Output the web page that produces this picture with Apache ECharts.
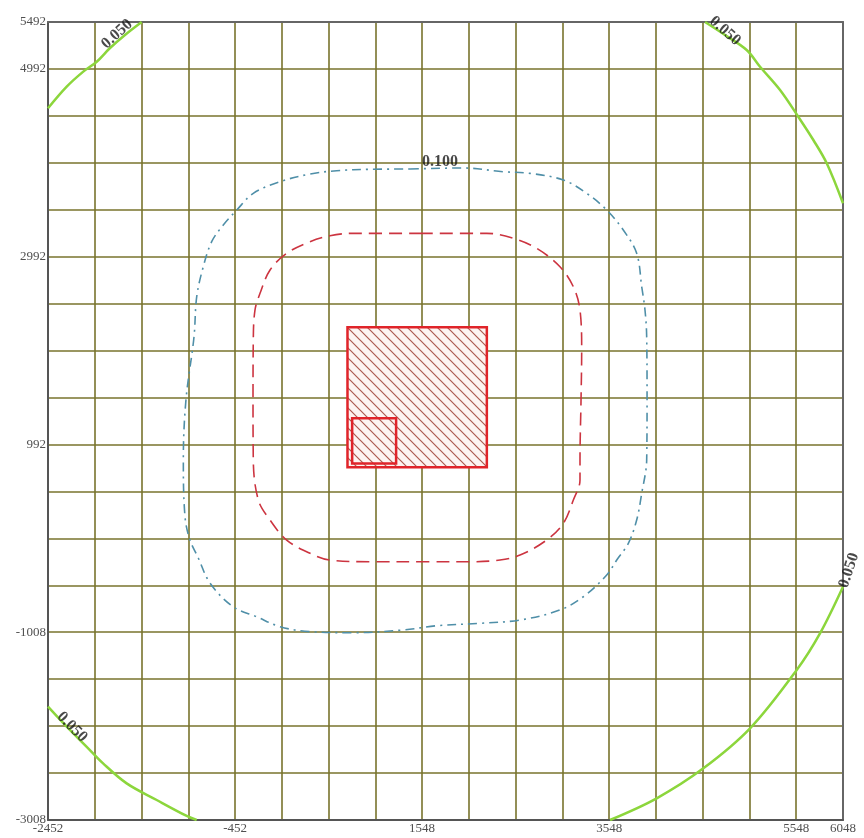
<!DOCTYPE html>
<html>
<head>
<meta charset="utf-8">
<script src="https://cdn.jsdelivr.net/npm/echarts@6/dist/echarts.min.js"></script>
<style>
  html, body { margin: 0; padding: 0; background: #fff; }
  #main { width: 864px; height: 838px; }
</style>
</head>
<body>
<div id="main"></div>
<script>
const xMin = -2452, xMax = 6048
const yMin = -3008, yMax = 5492
const gridStep = 500
const labelStep = 2000

// source area (x0, y0, x1, y1)
const sourceBox = [750, 750, 2240, 2240]
const innerBox = [800, 790, 1270, 1270]

// 0.100 isoline
const line100 = [
  [1419, 3926], [1988, 3937], [2416, 3897], [2702, 3880], [3058, 3809], [3308, 3667],
  [3522, 3489], [3699, 3276], [3842, 3028], [3896, 2672], [3931, 2424], [3949, 2140],
  [3953, 1466], [3949, 826], [3896, 472], [3842, 187], [3753, -61], [3629, -239],
  [3522, -399], [3271, -630], [3022, -771], [2595, -878], [2167, -913], [1704, -939],
  [1344, -984], [809, -1013], [349, -1002], [29, -949], [-221, -843], [-474, -736],
  [-720, -484], [-845, -217], [-934, -26], [-987, 222], [-1005, 826], [-977, 1466],
  [-891, 2137], [-862, 2566], [-792, 2885], [-702, 3152], [-578, 3330], [-434, 3489],
  [-257, 3667], [29, 3791], [349, 3873], [635, 3908], [991, 3923], [1419, 3926]
]

// inner dashed isoline
const lineInner = [
  [1525, 3241], [2239, 3241], [2523, 3188], [2773, 3081], [3022, 2885], [3165, 2672],
  [3236, 2424], [3254, 1998], [3247, 1466], [3236, 826], [3236, 613], [3165, 400],
  [3058, 152], [2880, -26], [2595, -186], [2381, -239], [2060, -257], [1632, -257],
  [991, -257], [563, -239], [349, -167], [100, -26], [-78, 187], [-203, 400],
  [-257, 826], [-260, 1466], [-257, 2105], [-239, 2424], [-185, 2602], [-78, 2850],
  [100, 3028], [349, 3152], [563, 3216], [812, 3241], [1525, 3241]
]

// 0.050 isoline, four corner pieces
const line050TL = [[-2452, 4573], [-2252, 4803], [-2075, 4963], [-1931, 5069], [-1789, 5215], [-1629, 5354], [-1450, 5492]]
const line050TR = [[4573, 5492], [4786, 5354], [5018, 5194], [5161, 5016], [5375, 4768], [5570, 4483], [5731, 4235], [5874, 3987], [6048, 3561]]
const line050BR = [[3557, -3008], [4056, -2777], [4555, -2458], [5054, -2032], [5553, -1410], [5802, -1020], [6048, -523]]
const line050BL = [[-2452, -1801], [-2252, -2014], [-2038, -2228], [-1863, -2405], [-1611, -2618], [-1290, -2795], [-969, -2965], [-862, -3008]]

// isoline labels: x, y, text, rotate
const isoLabels = [
  [1739, 4004, '0.100', 0],
  [-1714, 5364, '0.050', 42],
  [4786, 5396, '0.050', -41],
  [6112, -350, '0.050', 72],
  [-2195, -2018, '0.050', -45]
]

const hatch = document.createElement('canvas')
hatch.width = 10
hatch.height = 10
const hc = hatch.getContext('2d')
hc.fillStyle = '#fdf4f2'
hc.fillRect(0, 0, 10, 10)
hc.strokeStyle = '#ad5a50'
hc.lineWidth = 1.2
hc.beginPath()
hc.moveTo(-1, -1); hc.lineTo(11, 11)
hc.moveTo(-1, 9); hc.lineTo(1, 11)
hc.moveTo(9, -1); hc.lineTo(11, 1)
hc.stroke()

function tickLabel(min, max) {
  return function (v) {
    if (Math.abs(v - max) < 0.5) return String(max)
    const d = Math.round(v - min)
    if (d % labelStep === 0) return String(Math.round(v))
    return ''
  }
}

function boxSeries(box, filled) {
  return {
    type: 'custom',
    renderItem: function (params, api) {
      const p0 = api.coord([api.value(0), api.value(3)])
      const p1 = api.coord([api.value(2), api.value(1)])
      return {
        type: 'rect',
        shape: { x: p0[0], y: p0[1], width: p1[0] - p0[0], height: p1[1] - p0[1] },
        style: {
          fill: filled ? { image: hatch, repeat: 'repeat' } : 'transparent',
          stroke: '#e0242a',
          lineWidth: 2.5
        }
      }
    },
    data: [box],
    z: 5
  }
}

function isoSeries(data, color, width, dash) {
  return {
    type: 'line',
    data: data,
    showSymbol: false,
    smooth: 0.35,
    lineStyle: { color: color, width: width, type: dash },
    z: 4,
    silent: true
  }
}

const axisText = { color: '#505050', fontFamily: 'Liberation Serif', fontSize: 13 }
const splitStyle = { show: true, lineStyle: { color: '#78732c', width: 1.6 } }
const edgeAxis = {
  type: 'value',
  axisLine: { show: true, onZero: false, lineStyle: { color: '#666', width: 2 } },
  axisTick: { show: false },
  axisLabel: { show: false },
  splitLine: { show: false }
}

const option = {
  backgroundColor: '#fff',
  animation: false,
  grid: { left: 48, right: 21, top: 22, bottom: 18 },
  xAxis: [{
    type: 'value',
    min: xMin,
    max: xMax,
    interval: gridStep,
    axisLine: { show: true, onZero: false, lineStyle: { color: '#555', width: 2 } },
    axisTick: { show: false },
    axisLabel: Object.assign({ formatter: tickLabel(xMin, xMax), showMaxLabel: true, showMinLabel: true, margin: 2 }, axisText),
    splitLine: splitStyle
  }, Object.assign({ position: 'top', min: xMin, max: xMax }, edgeAxis)],
  yAxis: [{
    type: 'value',
    min: yMin,
    max: yMax,
    interval: gridStep,
    axisLine: { show: true, onZero: false, lineStyle: { color: '#555', width: 2 } },
    axisTick: { show: false },
    axisLabel: Object.assign({ formatter: tickLabel(yMin, yMax), showMaxLabel: true, showMinLabel: true, margin: 2 }, axisText),
    splitLine: splitStyle
  }, Object.assign({ position: 'right', min: yMin, max: yMax }, edgeAxis)],
  series: [
    isoSeries(line050TL, '#8cd63c', 2.5, 'solid'),
    isoSeries(line050TR, '#8cd63c', 2.5, 'solid'),
    isoSeries(line050BR, '#8cd63c', 2.5, 'solid'),
    isoSeries(line050BL, '#8cd63c', 2.5, 'solid'),
    isoSeries(line100, '#4f8fa8', 1.6, [9, 5, 2, 5]),
    isoSeries(lineInner, '#cc3440', 1.6, [13, 7]),
    boxSeries(sourceBox, true),
    boxSeries(innerBox, false),
    {
      type: 'scatter',
      clip: false,
      symbolSize: 0,
      z: 10,
      data: isoLabels.map(function (d) {
        return { value: [d[0], d[1]], name: d[2], label: { rotate: d[3] } }
      }),
      label: {
        show: true,
        position: 'inside',
        formatter: '{b}',
        color: '#1a1a1a',
        fontFamily: 'Liberation Serif',
        fontSize: 16,
        fontWeight: 'bold'
      }
    }
  ]
}

const chart = echarts.init(document.getElementById('main'))
chart.setOption(option)
</script>
</body>
</html>
